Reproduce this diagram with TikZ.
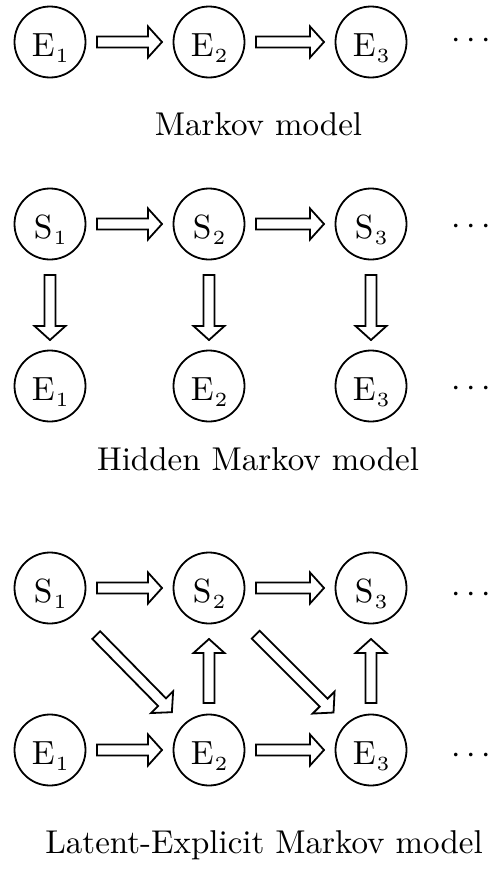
\documentclass[tikz,border=0pt]{standalone}
\usetikzlibrary{calc}

\tikzset{
  state/.style={circle, draw, line width=1.8pt, minimum size=71pt, inner sep=0pt,
    text height=28pt, text depth=0pt},
  fat/.style={draw, line width=1.8pt, fill=white, line join=miter},
  caption/.style={anchor=base, inner sep=0pt},
  more/.style={anchor=base west, inner sep=0pt},
}

% letter with a small, lowered index, enlarged as a whole
\newcommand\sublbl[2]{\scalebox{3.35}{#1\kern0.4pt\raisebox{-2pt}{\fontsize{6}{7}\selectfont #2}}}
\newcommand\bigtext[1]{\scalebox{3.3}{#1}}
\newcommand\moredots{\scalebox{3.4}{$\cdots$}}

% hollow block arrow from node #1 to node #2, leaving gaps #3 and #4
\newcommand\fatarrow[4]{%
  \coordinate (fa-p) at ($(#1)!#3!(#2)$);
  \coordinate (fa-q) at ($(#2)!#4!(#1)$);
  \coordinate (fa-h) at ($(fa-q)!14pt!(fa-p)$);
  \draw[fat] ($(fa-p)!5.5pt!90:(fa-q)$) -- ($(fa-h)!5.5pt!90:(fa-q)$)
    -- ($(fa-h)!15.5pt!90:(fa-q)$) -- (fa-q) -- ($(fa-h)!15.5pt!-90:(fa-q)$)
    -- ($(fa-h)!5.5pt!-90:(fa-q)$) -- ($(fa-p)!5.5pt!-90:(fa-q)$) -- cycle;
}

\begin{document}
\begin{tikzpicture}[x=1pt, y=-1pt]
\useasboundingbox (0,0) rectangle (492,878);

% Markov model
\node[state] (m1) at (50,42)  {\sublbl{E}{1}};
\node[state] (m2) at (209,42) {\sublbl{E}{2}};
\node[state] (m3) at (371,42) {\sublbl{E}{3}};
\node[more] (md) at (451.5,48.5) {\moredots};
\fatarrow{m1}{m2}{47pt}{47pt}
\fatarrow{m2}{m3}{47pt}{47pt}
\node[caption] (mcap) at (258.5,135) {\bigtext{Markov model}};

% Hidden Markov model
\node[state] (hs1) at (50,224)  {\sublbl{S}{1}};
\node[state] (hs2) at (209,224) {\sublbl{S}{2}};
\node[state] (hs3) at (371,224) {\sublbl{S}{3}};
\node[state] (he1) at (50,386)  {\sublbl{E}{1}};
\node[state] (he2) at (209,386) {\sublbl{E}{2}};
\node[state] (he3) at (371,386) {\sublbl{E}{3}};
\node[more] (hsd) at (451.5,234.5) {\moredots};
\node[more] (hed) at (451.5,396.5) {\moredots};
\fatarrow{hs1}{hs2}{47pt}{47pt}
\fatarrow{hs2}{hs3}{47pt}{47pt}
\fatarrow{hs1}{he1}{51pt}{46pt}
\fatarrow{hs2}{he2}{51pt}{46pt}
\fatarrow{hs3}{he3}{51pt}{46pt}
\node[caption] (hcap) at (258,470) {\bigtext{Hidden Markov model}};

% Latent-Explicit Markov model
\node[state] (ls1) at (50,588)  {\sublbl{S}{1}};
\node[state] (ls2) at (209,588) {\sublbl{S}{2}};
\node[state] (ls3) at (371,588) {\sublbl{S}{3}};
\node[state] (le1) at (50,750)  {\sublbl{E}{1}};
\node[state] (le2) at (209,750) {\sublbl{E}{2}};
\node[state] (le3) at (371,750) {\sublbl{E}{3}};
\node[more] (lsd) at (451.5,602.5) {\moredots};
\node[more] (led) at (451.5,763.5) {\moredots};
\fatarrow{ls1}{ls2}{47pt}{47pt}
\fatarrow{ls2}{ls3}{47pt}{47pt}
\fatarrow{le1}{le2}{47pt}{47pt}
\fatarrow{le2}{le3}{47pt}{47pt}
\fatarrow{le2}{ls2}{47pt}{51pt}
\fatarrow{le3}{ls3}{47pt}{51pt}
\fatarrow{ls1}{le2}{66pt}{53pt}
\fatarrow{ls2}{le3}{66pt}{53pt}
\node[caption] (lcap) at (264,853) {\bigtext{Latent-Explicit Markov model}};
\end{tikzpicture}
\end{document}
